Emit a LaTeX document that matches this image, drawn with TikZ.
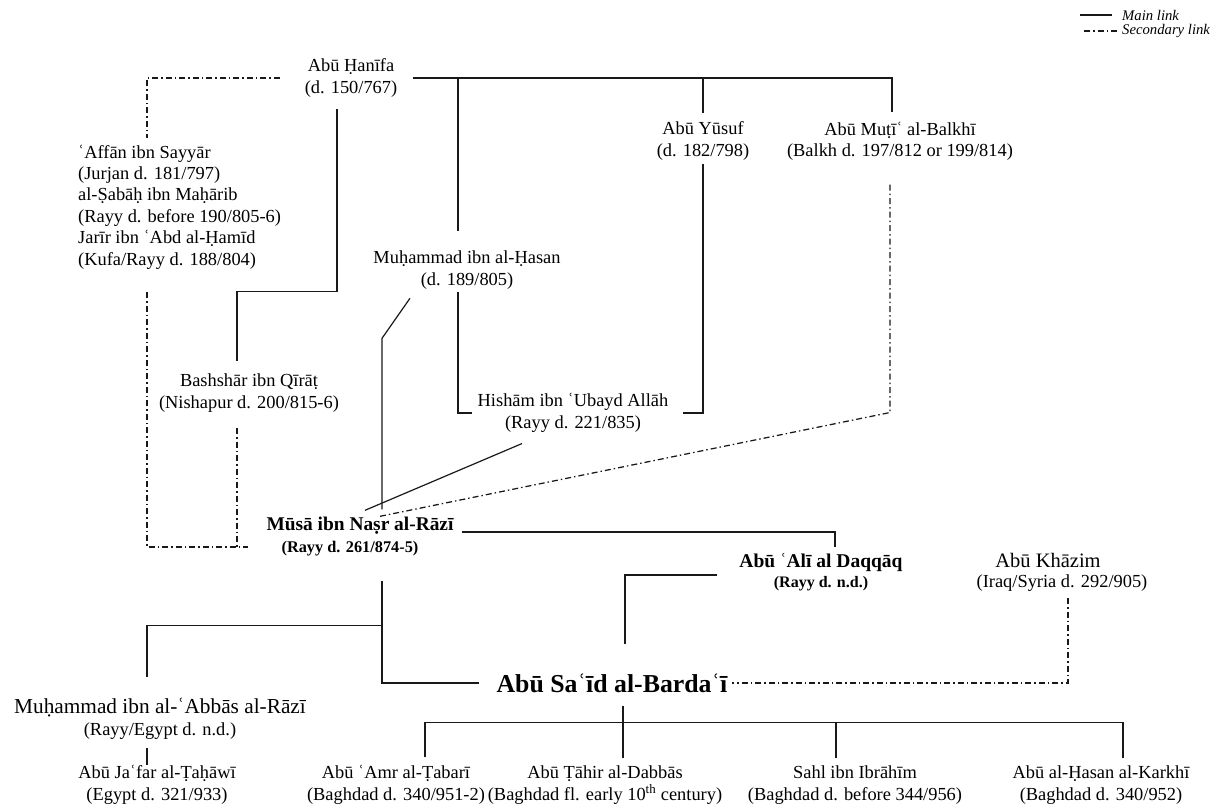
\documentclass[tikz,border=0pt]{standalone}
\usepackage{fontspec}
\setmainfont{Liberation Serif}
\newcommand\fsz[1]{\fontsize{#1}{21.4}\selectfont}

\begin{document}
\begin{tikzpicture}[x=1pt,y=-1pt,
    mainlink/.style={line width=1.2pt, black!90},
    seclink/.style={line width=1.25pt, black!90, dash pattern=on 6pt off 3pt on 1.5pt off 3pt},
    scholar/.style={align=center, inner sep=0pt, font=\fsz{18.4}}]
\useasboundingbox (0,0) rectangle (1222,808);

% legend
\node[anchor=west, inner sep=0pt, font=\fsz{14.7}\itshape] (mainlbl) at (1122,15) {Main link};
\node[anchor=west, inner sep=0pt, font=\fsz{14.7}\itshape] (seclbl) at (1122,31) {Secondary link};
\draw[mainlink] ([xshift=-10]mainlbl.west) -- ++(-32,0);
\draw[seclink] ([xshift=-5]seclbl.west) -- ++(-33,0);

% teachers
\node[scholar] (hanifa) at (351,78) {Abū Ḥanīfa\\(d. 150/767)};
\node[scholar] (yusuf) at (703,141) {Abū Yūsuf\\(d. 182/798)};
\node[scholar] (muti) at (900,141) {Abū Muṭīʿ al-Balkhī\\(Balkh d. 197/812 or 199/814)};
\node[scholar, align=left, anchor=west] (affan) at (78,207) {ʿAffān ibn Sayyār\\(Jurjan d. 181/797)\\al-Ṣabāḥ ibn Maḥārib\\(Rayy d. before 190/805-6)\\Jarīr ibn ʿAbd al-Ḥamīd\\(Kufa/Rayy d. 188/804)};
\node[scholar] (hasan) at (467,270) {Muḥammad ibn al-Ḥasan\\(d. 189/805)};
\node[scholar] (bashshar) at (249,393) {Bashshār ibn Qīrāṭ\\(Nishapur d. 200/815-6)};
\node[scholar] (hisham) at (573,413) {Hishām ibn ʿUbayd Allāh\\(Rayy d. 221/835)};

% Musa and his circle
\node[scholar, font=\fontsize{16.3}{22}\selectfont\bfseries] (musa) at (360,537) {{\fontsize{19.4}{22}\selectfont Mūsā ibn Naṣr al-Rāzī}\\(Rayy d. 261/874-5)\hbox to 20pt{}};
\node[scholar, font=\fontsize{16}{20}\selectfont\bfseries] (ali) at (821,572) {{\fontsize{19.5}{20}\selectfont Abū ʿAlī al Daqqāq}\\(Rayy d. n.d.)};
\node[scholar, font=\fontsize{18.4}{20}\selectfont] (khazim) at (1062,572) {{\fontsize{20.5}{20}\selectfont Abū Khāzim}\hbox to 28pt{}\\(Iraq/Syria d. 292/905)};
\node[scholar, font=\fontsize{25.8}{28}\selectfont\bfseries] (saeed) at (612,683) {Abū Saʿīd al-Bardaʿī};
\node[scholar, font=\fontsize{18.4}{22}\selectfont] (abbas) at (160,719) {{\fontsize{21.3}{22}\selectfont Muḥammad ibn al-ʿAbbās al-Rāzī}\\(Rayy/Egypt d. n.d.)};

% students
\node[scholar] (jafar) at (157,785) {Abū Jaʿfar al-Ṭaḥāwī\\(Egypt d. 321/933)};
\node[scholar] (tabari) at (396,785) {Abū ʿAmr al-Ṭabarī\\(Baghdad d. 340/951-2)};
\node[scholar] (dabbas) at (605,785) {Abū Ṭāhir al-Dabbās\\(Baghdad fl. early 10\textsuperscript{th} century)};
\node[scholar] (sahl) at (855,785) {Sahl ibn Ibrāhīm\\(Baghdad d. before 344/956)};
\node[scholar] (karkhi) at (1101,785) {Abū al-Ḥasan al-Karkhī\\(Baghdad d. 340/952)};

% links from Abu Hanifa
\draw[mainlink] ([xshift=16]hanifa.east) -| ([xshift=-8,yshift=9]muti.north);
\draw[mainlink] (yusuf.north |- hanifa.east) -- ([yshift=9]yusuf.north);
\draw[mainlink] ([xshift=-9]hasan.north |- hanifa.east) -- ([xshift=-9,yshift=20]hasan.north);
\draw[mainlink] ([xshift=-14,yshift=-12]hanifa.south) -- ++(0,182) -| ([xshift=-12,yshift=13]bashshar.north);
\draw[seclink] ([xshift=-25]hanifa.west) -| ([xshift=69,yshift=7]affan.north west);

% links to Musa
\coordinate (sj) at ([xshift=-18,yshift=-10]musa.west);
\draw[seclink] ([xshift=69,yshift=-23]affan.south west) |- (sj);
\draw[seclink] ([xshift=-12,yshift=-16]bashshar.south) -- ([xshift=-12]bashshar.south |- sj);
\draw[mainlink] ([xshift=22,yshift=8]musa.north) -- ++(0,-171) -- ([xshift=-57,yshift=-9]hasan.south);
\draw[mainlink] ([xshift=-9,yshift=-3]hasan.south) |- ([xshift=-6]hisham.west);
\draw[mainlink] ([yshift=-4]yusuf.south) |- ([xshift=14]hisham.east);
\draw[mainlink] ([xshift=-51,yshift=-11]hisham.south) -- ([xshift=5,yshift=7]musa.north);
\draw[seclink] ([xshift=-10,yshift=-24]muti.south) -- ++(0,228) -- ([xshift=20,yshift=1]musa.north);

% links from Musa
\coordinate (mb) at ([xshift=22,yshift=-24]musa.south);
\draw[mainlink] ([xshift=8,yshift=5]musa.east) -| ([xshift=14,yshift=6]ali.north);
\draw[mainlink] ([xshift=-22,yshift=-3]ali.west) -| ([xshift=13,yshift=29]saeed.north);
\draw[mainlink] (mb) |- ([xshift=-17]saeed.west);
\draw[mainlink] ([yshift=-45]mb) -| ([xshift=-13,yshift=21]abbas.north);
\draw[mainlink] ([xshift=-13,yshift=-8]abbas.south) -- ([xshift=-13]abbas.south |- jafar.north);
\draw[seclink] ([xshift=6,yshift=-7]khazim.south) |- ([xshift=4]saeed.east);

% students of Abu Sa'id
\coordinate (sb) at ([xshift=11,yshift=-13]saeed.south);
\coordinate (sbar) at ([yshift=-17]sb);
\draw[mainlink] (sb) -- ([yshift=8]sb |- dabbas.north);
\draw[mainlink] ([xshift=29,yshift=8]tabari.north) |- (sbar) -| ([xshift=22,yshift=8]karkhi.north);
\draw[mainlink] ([xshift=-19,yshift=8]sahl.north) -- ([xshift=-19]sahl.north |- sbar);
\end{tikzpicture}
\end{document}
